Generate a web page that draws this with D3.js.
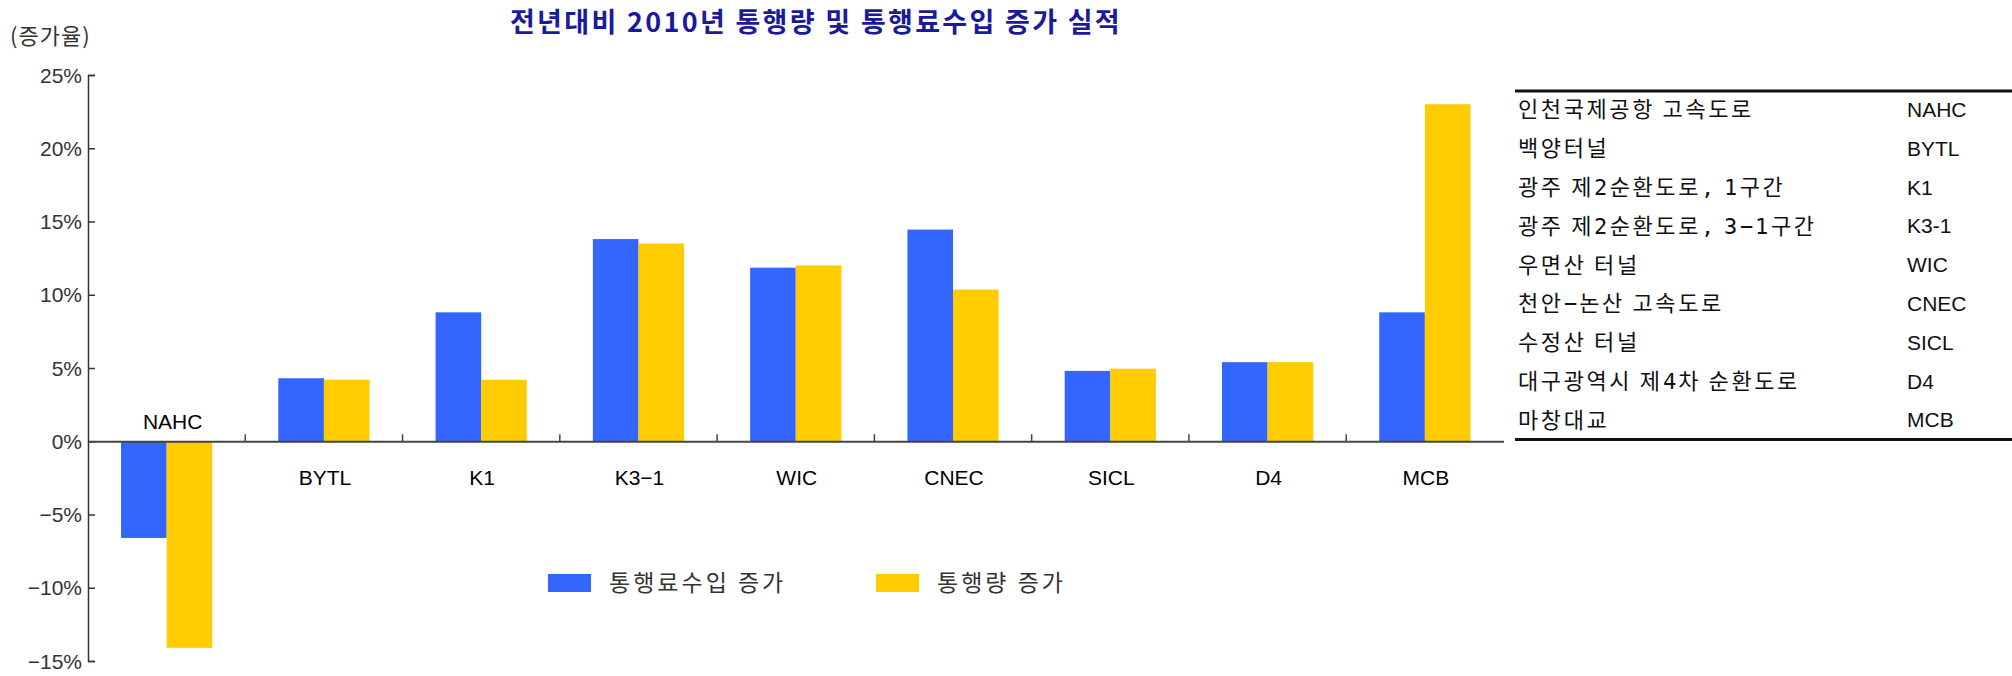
<!DOCTYPE html>
<html>
<head>
<meta charset="utf-8">
<script src="https://cdn.jsdelivr.net/npm/d3@7"></script>
<style>
  @font-face {
    font-family: "TblAscii";
    src: local("DejaVu Sans Mono");
    unicode-range: U+0021-007E, U+2212;
  }
  html, body { margin: 0; padding: 0; background: #fff; }
  #chart { width: 2012px; height: 676px; }
  .lat { font-family: "Liberation Sans", Arial, sans-serif; }
  .kor { font-family: "Liberation Sans Narrow", "Noto Sans CJK KR", "Noto Sans", sans-serif; }
  .tbl { font-family: "TblAscii", "Noto Sans CJK KR", sans-serif; }
</style>
</head>
<body>
<div id="chart"></div>
<script>
// dane z wykresu
const categories = ["NAHC", "BYTL", "K1", "K3-1", "WIC", "CNEC", "SICL", "D4", "MCB"];
const revenueGrowth = [-6.6, 4.3, 8.8, 13.8, 11.85, 14.45, 4.8, 5.4, 8.8];
const trafficGrowth = [-14.1, 4.2, 4.2, 13.5, 12.0, 10.35, 4.95, 5.4, 23.0];
const seriesNames = ["통행료수입 증가", "통행량 증가"];
const seriesColors = ["#3366ff", "#ffcc00"];
const yTicks = [-15, -10, -5, 0, 5, 10, 15, 20, 25];
const axisLabels = ["NAHC", "BYTL", "K1", "K3−1", "WIC", "CNEC", "SICL", "D4", "MCB"];
const roadNames = ["인천국제공항 고속도로", "백양터널", "광주 제2순환도로, 1구간", "광주 제2순환도로, 3−1구간",
  "우면산 터널", "천안−논산 고속도로", "수정산 터널", "대구광역시 제4차 순환도로", "마창대교"];
const roadCodes = ["NAHC", "BYTL", "K1", "K3-1", "WIC", "CNEC", "SICL", "D4", "MCB"];
const title = "전년대비 2010년 통행량 및 통행료수입 증가 실적";
const yTitle = "(증가율)";

const width = 2012, height = 676;
const left = 88, right = 1503.5;

const svg = d3.select("#chart").append("svg")
  .attr("width", width)
  .attr("height", height);

const x = d3.scaleBand().domain(categories).range([left, right]).padding(0);
const xSub = d3.scaleBand().domain([0, 1])
  .range([x.bandwidth() * 0.21, x.bandwidth() * 0.79]).padding(0);
const y = d3.scaleLinear().domain([-15, 25]).range([661, 75]);

const rows = categories.map((c, i) => ({ cat: c, vals: [revenueGrowth[i], trafficGrowth[i]] }));

// slupki
const groups = svg.selectAll(".grp").data(rows).enter().append("g")
  .attr("transform", d => "translate(" + x(d.cat) + ",0)");
groups.selectAll("rect").data(d => d.vals).enter().append("rect")
  .attr("x", (v, i) => xSub(i))
  .attr("width", xSub.bandwidth())
  .attr("y", v => y(Math.max(0, v)))
  .attr("height", v => Math.abs(y(v) - y(0)))
  .attr("fill", (v, i) => seriesColors[i]);

// os y
const yAxis = svg.append("g")
  .attr("transform", "translate(" + left + ",0)")
  .call(d3.axisRight(y).tickValues(yTicks).tickSize(7).tickFormat(""));
yAxis.select(".domain").attr("stroke", "#333").attr("stroke-width", 1.5);
yAxis.selectAll(".tick line").attr("stroke", "#333").attr("stroke-width", 1.5);

svg.append("g").selectAll("text").data(yTicks).enter().append("text")
  .attr("class", "lat")
  .attr("x", left - 6)
  .attr("y", d => y(d))
  .attr("dy", "0.36em")
  .attr("text-anchor", "end")
  .attr("font-size", "21px")
  .attr("fill", "#333")
  .text(d => d3.format("d")(d) + "%");

// linia zero i podzialki kategorii
const xAxis = svg.append("g")
  .attr("transform", "translate(0," + y(0) + ")")
  .call(d3.axisTop(x).tickSize(0).tickFormat(""));
xAxis.select(".domain").attr("stroke", "#444").attr("stroke-width", 2);
xAxis.selectAll(".tick").remove();
xAxis.selectAll(".sep").data(categories.slice(1)).enter().append("line")
  .attr("x1", d => x(d)).attr("x2", d => x(d))
  .attr("y1", 0).attr("y2", -7)
  .attr("stroke", "#444").attr("stroke-width", 1.5);

svg.append("g").selectAll("text").data(rows).enter().append("text")
  .attr("class", "lat")
  .attr("x", (d, i) => x(d.cat) + x.bandwidth() / 2 + (d.vals[0] < 0 ? 6 : 1))
  .attr("y", d => d.vals[0] < 0 ? y(0) - 12 : y(0) + 44)
  .attr("text-anchor", "middle")
  .attr("font-size", "21px")
  .attr("fill", "#000")
  .text((d, i) => axisLabels[i]);

// tytul
svg.append("text")
  .attr("class", "kor")
  .attr("x", 816)
  .attr("y", 32)
  .attr("text-anchor", "middle")
  .attr("font-size", "27px")
  .attr("font-weight", "bold")
  .attr("letter-spacing", "2.3px")
  .attr("fill", "#1a1a9a")
  .text(title);

svg.append("text")
  .attr("class", "kor")
  .attr("x", 10)
  .attr("y", 44)
  .attr("font-size", "22px")
  .attr("letter-spacing", "1px")
  .attr("fill", "#333")
  .text(yTitle);

// legenda
const legendX = [548, 876];
const legend = svg.append("g").selectAll("g").data(seriesNames).enter().append("g")
  .attr("transform", (d, i) => "translate(" + legendX[i] + ",574)");
legend.append("rect")
  .attr("width", 43).attr("height", 18)
  .attr("fill", (d, i) => seriesColors[i]);
legend.append("text")
  .attr("class", "kor")
  .attr("x", 61).attr("y", 9).attr("dy", "0.36em")
  .attr("font-size", "23px")
  .attr("letter-spacing", "3px")
  .attr("fill", "#333")
  .text(d => d);

// tabela skrotow
const tableTop = 91, tableBottom = 439.5, rowStep = 38.8;
const table = svg.append("g");
table.append("line").attr("x1", 1515).attr("x2", width)
  .attr("y1", tableTop).attr("y2", tableTop)
  .attr("stroke", "#111").attr("stroke-width", 3);
table.append("line").attr("x1", 1515).attr("x2", width)
  .attr("y1", tableBottom).attr("y2", tableBottom)
  .attr("stroke", "#111").attr("stroke-width", 3);
table.selectAll(".name").data(roadNames).enter().append("text")
  .attr("class", "tbl")
  .attr("x", 1518)
  .attr("y", (d, i) => 109.5 + i * rowStep)
  .attr("dy", "0.36em")
  .attr("font-size", "22px")
  .attr("letter-spacing", "2.6px")
  .attr("fill", "#111")
  .text(d => d);
table.selectAll(".code").data(roadCodes).enter().append("text")
  .attr("class", "lat")
  .attr("x", 1907)
  .attr("y", (d, i) => 109.5 + i * rowStep)
  .attr("dy", "0.36em")
  .attr("font-size", "21px")
  .attr("fill", "#111")
  .text(d => d);
</script>
</body>
</html>
